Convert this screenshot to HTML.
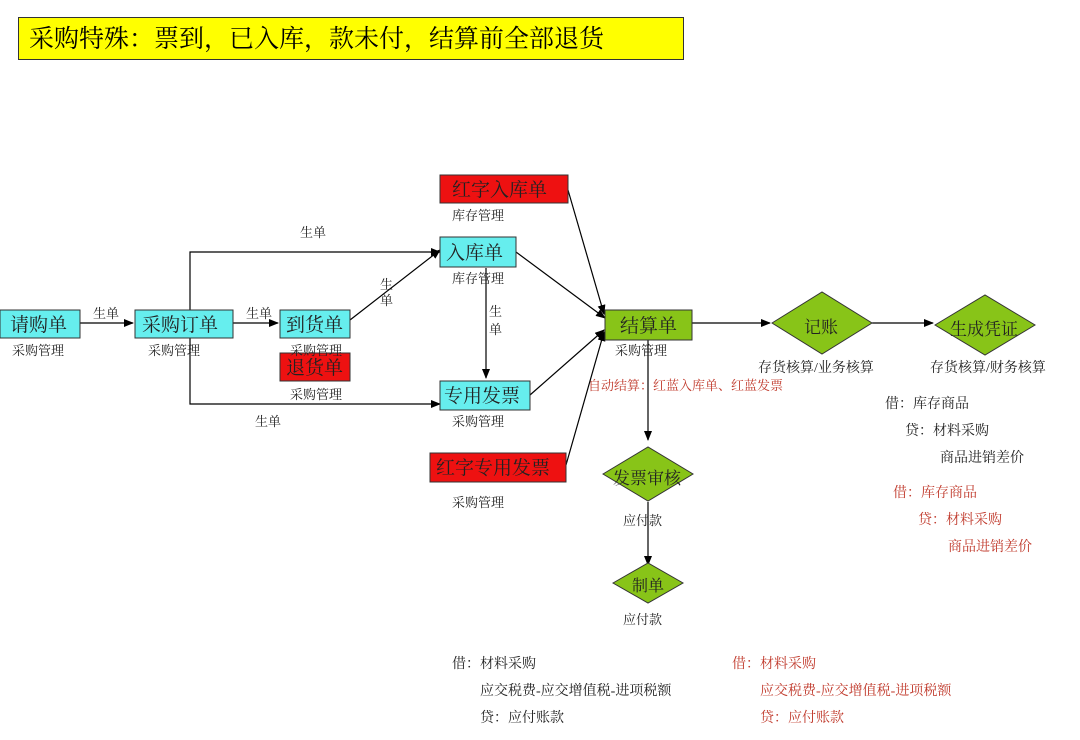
<!DOCTYPE html>
<html><head><meta charset="utf-8"><style>
body{margin:0;width:1080px;height:740px;background:#fff;position:relative;overflow:hidden;font-family:"Liberation Serif","Noto Serif CJK SC","Noto Sans CJK SC",serif;}
.t{position:absolute;font-size:13px;color:#222;white-space:nowrap;}
.a{font-size:14px;}
.r{color:#c0392b;}
.title{position:absolute;left:18px;top:17px;height:43px;background:#ffff00;border:1.5px solid #333;font-size:25px;line-height:43px;padding-left:10px;box-sizing:border-box;width:666px;}
</style></head><body>
<div class="title">采购特殊：票到，已入库，款未付，结算前全部退货</div>
<svg width="1080" height="740" style="position:absolute;left:0;top:0">
<defs><marker id="a" markerWidth="10" markerHeight="8" refX="9" refY="4" orient="auto" markerUnits="userSpaceOnUse"><path d="M0,0L10,4L0,8z" fill="#000"/></marker></defs>
<g stroke="#000" stroke-width="1.2" fill="none" marker-end="url(#a)">
<path d="M80,323H133"/><path d="M233,323H278"/>
<path d="M190,310V252H440"/><path d="M190,338V404H440"/>
<path d="M350,320L440,250"/><path d="M486,268V378"/>
<path d="M516,252L605,318"/><path d="M568,190L604,314"/>
<path d="M530,395L604,330"/><path d="M566,465L604,332"/>
<path d="M692,323H770"/><path d="M872,323H933"/>
<path d="M648,340V440"/><path d="M648,502V565"/>
</g>
<g stroke="#333" stroke-width="1">
<rect x="0" y="310" width="80" height="28" fill="#66eeee"/>
<rect x="135" y="310" width="98" height="28" fill="#66eeee"/>
<rect x="280" y="310" width="70" height="28" fill="#66eeee"/>
<rect x="280" y="353" width="70" height="28" fill="#ee1111"/>
<rect x="440" y="237" width="76" height="30" fill="#66eeee"/>
<rect x="440" y="175" width="128" height="28" fill="#ee1111"/>
<rect x="440" y="381" width="90" height="29" fill="#66eeee"/>
<rect x="430" y="453" width="136" height="29" fill="#ee1111"/>
<rect x="605" y="310" width="87" height="30" fill="#88c418"/>
<polygon points="772,323 822,292 872,323 822,354" fill="#88c418"/>
<polygon points="935,325 985,295 1035,325 985,355" fill="#88c418"/>
<polygon points="603,474 648,447 693,474 648,501" fill="#88c418"/>
<polygon points="613,583 648,563 683,583 648,603" fill="#88c418"/>
</g>
</svg>
<div class="t" style="left:10px;top:310px;font-size:19px">请购单</div>
<div class="t" style="left:142px;top:310px;font-size:19px">采购订单</div>
<div class="t" style="left:286px;top:310px;font-size:19px">到货单</div>
<div class="t" style="left:286px;top:353px;font-size:19px">退货单</div>
<div class="t" style="left:446px;top:238px;font-size:19px">入库单</div>
<div class="t" style="left:452px;top:175px;font-size:19px">红字入库单</div>
<div class="t" style="left:444px;top:381px;font-size:19px">专用发票</div>
<div class="t" style="left:436px;top:453px;font-size:19px">红字专用发票</div>
<div class="t" style="left:620px;top:311px;font-size:19px">结算单</div>
<div class="t" style="left:804px;top:313px;font-size:17px">记账</div>
<div class="t" style="left:950px;top:315px;font-size:17px">生成凭证</div>
<div class="t" style="left:613px;top:464px;font-size:17px">发票审核</div>
<div class="t" style="left:632px;top:573px;font-size:16px">制单</div>
<div class="t" style="left:12px;top:340px">采购管理</div>
<div class="t" style="left:148px;top:340px">采购管理</div>
<div class="t" style="left:290px;top:340px">采购管理</div>
<div class="t" style="left:290px;top:384px">采购管理</div>
<div class="t" style="left:452px;top:268px">库存管理</div>
<div class="t" style="left:452px;top:205px">库存管理</div>
<div class="t" style="left:452px;top:411px">采购管理</div>
<div class="t" style="left:452px;top:492px">采购管理</div>
<div class="t" style="left:615px;top:340px">采购管理</div>
<div class="t" style="left:93px;top:303px">生单</div>
<div class="t" style="left:246px;top:303px">生单</div>
<div class="t" style="left:300px;top:222px">生单</div>
<div class="t" style="left:255px;top:411px">生单</div>
<div class="t" style="left:380px;top:277px;width:14px;white-space:normal;line-height:16px">生单</div>
<div class="t" style="left:489px;top:303px;width:14px;white-space:normal;line-height:18px">生单</div>
<div class="t a" style="left:758px;top:357px">存货核算/业务核算</div>
<div class="t a" style="left:930px;top:357px">存货核算/财务核算</div>
<div class="t r" style="left:588px;top:375px">自动结算：红蓝入库单、红蓝发票</div>
<div class="t" style="left:623px;top:510px">应付款</div>
<div class="t" style="left:623px;top:609px">应付款</div>
<div class="t a" style="left:885px;top:393px">借：库存商品</div>
<div class="t a" style="left:905px;top:420px">贷：材料采购</div>
<div class="t a" style="left:940px;top:447px">商品进销差价</div>
<div class="t a r" style="left:893px;top:482px">借：库存商品</div>
<div class="t a r" style="left:918px;top:509px">贷：材料采购</div>
<div class="t a r" style="left:948px;top:536px">商品进销差价</div>
<div class="t a" style="left:452px;top:653px">借：材料采购</div>
<div class="t a" style="left:480px;top:680px">应交税费-应交增值税-进项税额</div>
<div class="t a" style="left:480px;top:707px">贷：应付账款</div>
<div class="t a r" style="left:732px;top:653px">借：材料采购</div>
<div class="t a r" style="left:760px;top:680px">应交税费-应交增值税-进项税额</div>
<div class="t a r" style="left:760px;top:707px">贷：应付账款</div>
</body></html>
